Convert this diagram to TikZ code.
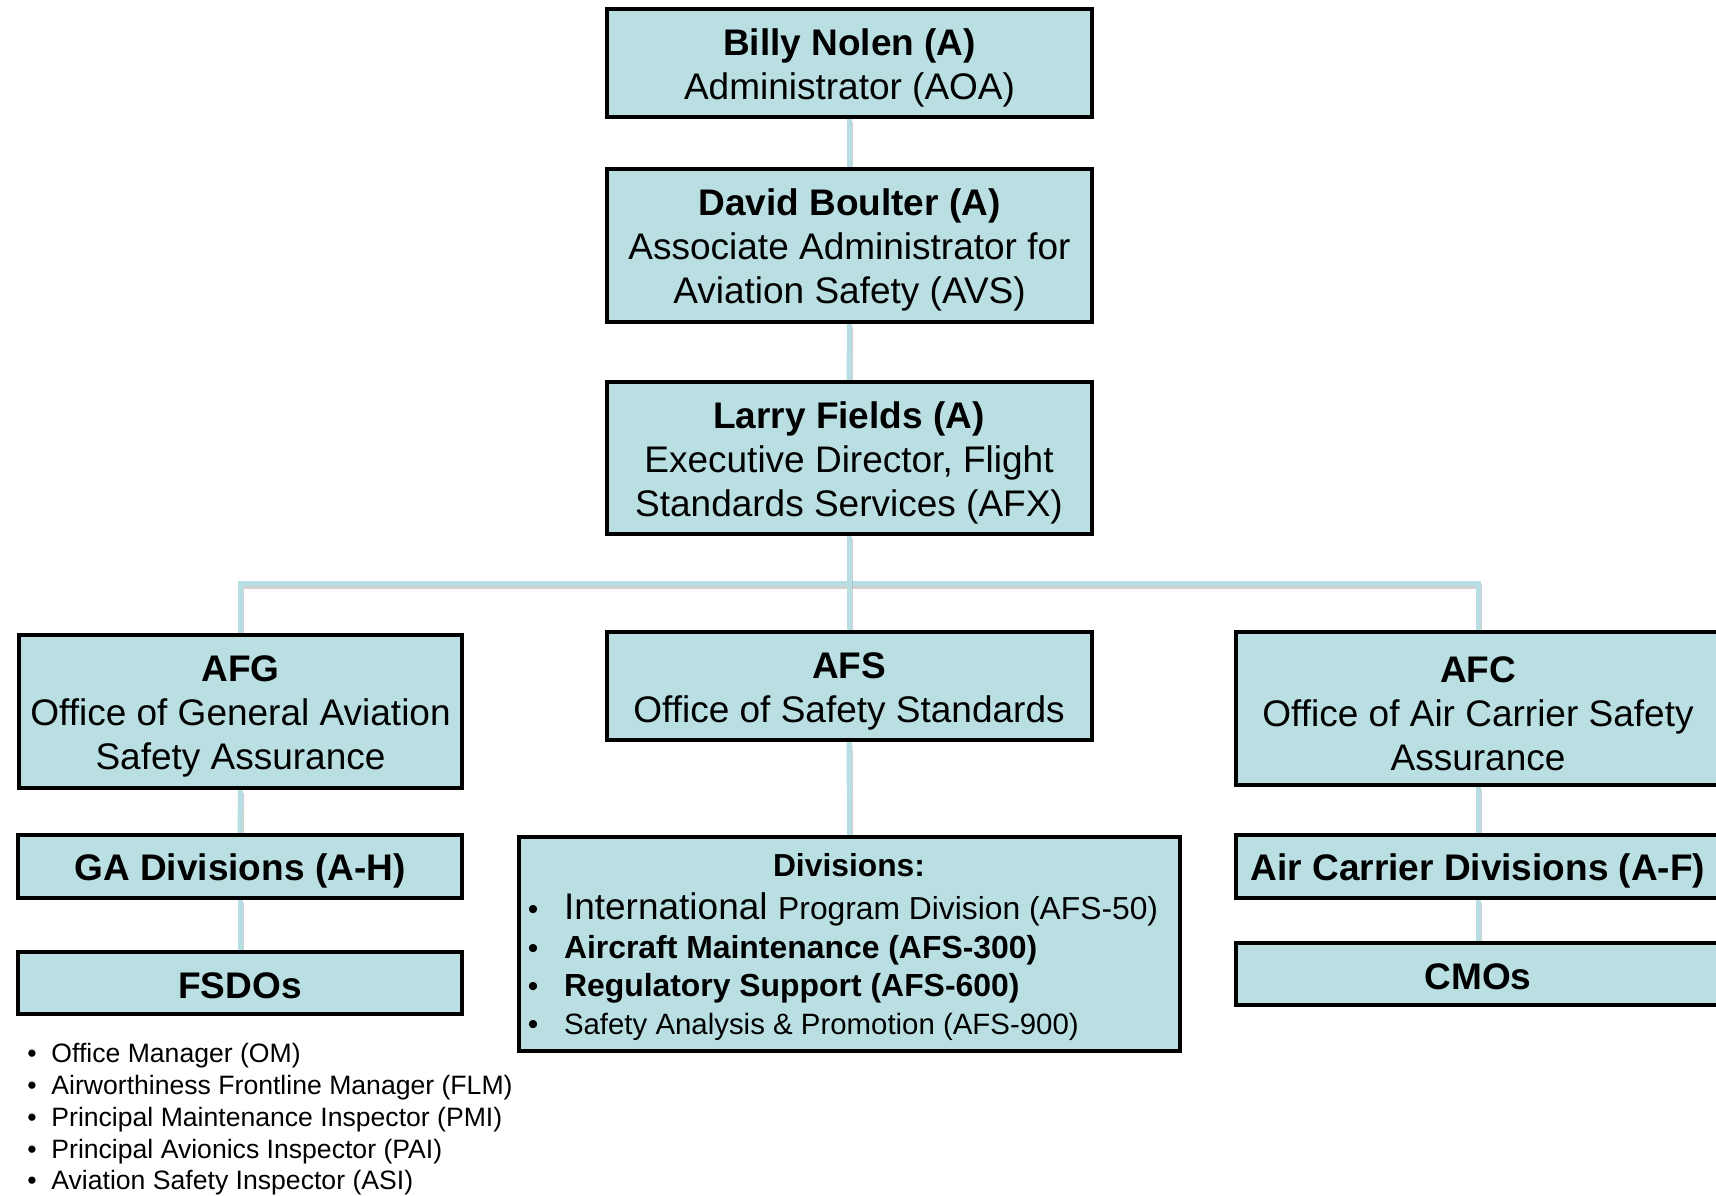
\documentclass[tikz,border=0pt]{standalone}
\usepackage{fontspec}
\setmainfont{Liberation Sans}
\usetikzlibrary{backgrounds}
\definecolor{boxfill}{RGB}{185,223,227}
\definecolor{linkcol}{RGB}{183,222,226}
\newcommand{\topstrut}{\rule{0pt}{18pt}}
\newcommand{\botstrut}{\rule[-2.5pt]{0pt}{0pt}}
\begin{document}
\begin{tikzpicture}[x=0.5pt,y=-0.5pt,
  orgbox/.style={draw=black, line width=2pt, fill=boxfill, align=center, inner sep=0pt,
    font=\fontsize{18.5pt}{22pt}\selectfont},
  conn/.style={draw=linkcol, line width=2.5pt,
    preaction={draw=black!40, opacity=0.45, line width=2.5pt, transform canvas={xshift=0.6pt,yshift=-1.6pt}}},
  divtxt/.style={anchor=base west, inner sep=0pt},
  bul/.style={anchor=base, inner sep=0pt, font=\fontsize{15pt}{18pt}\selectfont},
  listtxt/.style={anchor=base west, inner sep=0pt, font=\fontsize{13.3pt}{16pt}\selectfont},
  listbul/.style={anchor=base, inner sep=0pt, font=\fontsize{13.3pt}{16pt}\selectfont}]
\useasboundingbox (0,0) rectangle (1716,1195);

% top chain
\node[orgbox, minimum width=242.5pt, minimum height=54pt] (billy) at (849.5,63)
  {\topstrut\textbf{Billy Nolen (A)}\\Administrator (AOA)};
\node[orgbox, minimum width=242.5pt, minimum height=76.5pt] (david) at (849.5,245.5)
  {\topstrut\textbf{David Boulter (A)}\\Associate Administrator for\\Aviation Safety (AVS)};
\node[orgbox, minimum width=242.5pt, minimum height=76pt] (larry) at (849,458)
  {\topstrut\textbf{Larry Fields (A)}\\Executive Director, Flight\\Standards Services (AFX)};

% left column
\node[orgbox, minimum width=221.5pt, minimum height=76.5pt] (afg) at (240.5,711.5)
  {\topstrut\textbf{AFG}\\Office of General Aviation\\Safety Assurance};
\node[orgbox, minimum width=222pt, minimum height=31.5pt] (gadiv) at (240,866.5)
  {\topstrut\textbf{GA Divisions (A-H)}};
\node[orgbox, minimum width=222pt, minimum height=31pt] (fsdo) at (240,983)
  {\topstrut\textbf{FSDOs}\botstrut};

% middle column
\node[orgbox, minimum width=242.5pt, minimum height=54pt] (afs) at (849,686)
  {\topstrut\textbf{AFS}\\Office of Safety Standards};
\node[orgbox, minimum width=330.5pt, minimum height=107pt] (divs) at (849.5,944) {};
\node[anchor=base, inner sep=0pt, font=\fontsize{15.9pt}{19pt}\selectfont\bfseries] (divtitle) at (849,876) {Divisions:};
\node[bul] (b1) at (533,919) {•};
\node[bul] (b2) at (533,958) {•};
\node[bul] (b3) at (533,996) {•};
\node[bul] (b4) at (533,1034) {•};
\node[divtxt] (d1) at (563.6,919)
  {{\fontsize{18.5pt}{22pt}\selectfont International}\hspace{2.5pt} {\fontsize{15.9pt}{19pt}\selectfont Program Division (AFS-50)}};
\node[divtxt, font=\fontsize{15.95pt}{19pt}\selectfont\bfseries] (d2) at (563.6,958) {Aircraft Maintenance (AFS-300)};
\node[divtxt, font=\fontsize{15.95pt}{19pt}\selectfont\bfseries] (d3) at (563.6,996) {Regulatory Support (AFS-600)};
\node[divtxt, font=\fontsize{14.7pt}{18pt}\selectfont] (d4) at (563.6,1034) {Safety Analysis \& Promotion (AFS-900)};

% right column
\node[orgbox, minimum width=242pt, minimum height=76.5pt] (afc) at (1478,708.5)
  {\topstrut\textbf{AFC}\\Office of Air Carrier Safety\\Assurance};
\node[orgbox, minimum width=242pt, minimum height=31.5pt] (acdiv) at (1478,866.5)
  {\topstrut\textbf{Air Carrier Divisions (A-F)}};
\node[orgbox, minimum width=242pt, minimum height=31pt] (cmo) at (1478,974)
  {\topstrut\textbf{CMOs}\botstrut};

% bottom-left list
\node[listbul] (lb1) at (32,1062) {•};
\node[listbul] (lb2) at (32,1094) {•};
\node[listbul] (lb3) at (32,1126) {•};
\node[listbul] (lb4) at (32,1158) {•};
\node[listbul] (lb5) at (32,1189) {•};
\node[listtxt] (l1) at (51,1062) {Office Manager (OM)};
\node[listtxt] (l2) at (51,1094) {Airworthiness Frontline Manager (FLM)};
\node[listtxt] (l3) at (51,1126) {Principal Maintenance Inspector (PMI)};
\node[listtxt] (l4) at (51,1158) {Principal Avionics Inspector (PAI)};
\node[listtxt] (l5) at (51,1189) {Aviation Safety Inspector (ASI)};

% connectors
\begin{scope}[on background layer]
  \fill[white] (0,0) rectangle (1716,1195);
  \coordinate (bar) at (849,583);
  \draw[conn] (billy.south) -- (david.north);
  \draw[conn] (david.south) -- (larry.north);
  \draw[conn] (afg.north) |- (bar) -| (afc.north);
  \draw[conn] (larry.south) -- (afs.north);
  \draw[conn] (afs.south) -- (divs.north);
  \draw[conn] (afg.south) -- (gadiv.north);
  \draw[conn] (gadiv.south) -- (fsdo.north);
  \draw[conn] (afc.south) -- (acdiv.north);
  \draw[conn] (acdiv.south) -- (cmo.north);
\end{scope}
\end{tikzpicture}
\end{document}
